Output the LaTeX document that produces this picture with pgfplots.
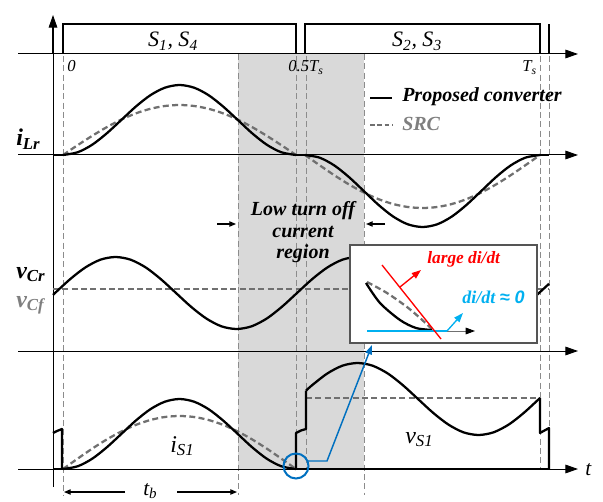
\documentclass[border=0pt]{standalone}
\usepackage{pgfplots}
\pgfplotsset{compat=1.18}
\usepackage{fontspec}
\setmainfont{Liberation Serif}
\newfontfamily\sansfont{Liberation Sans}
\usetikzlibrary{arrows.meta}

\definecolor{srcgray}{HTML}{707070}
\definecolor{vgray}{HTML}{8C8C8C}
\definecolor{shadegray}{HTML}{D9D9D9}
\definecolor{lblgray}{HTML}{7F7F7F}
\definecolor{boxgray}{HTML}{555555}
\definecolor{ddtred}{HTML}{FF0000}
\definecolor{ddtblue}{HTML}{00B0F0}
\definecolor{markblue}{HTML}{0070C0}

\newcommand{\fs}[1]{\fontsize{#1}{#1}\selectfont}

\tikzset{
  sol/.style={black, line width=1.7pt, line join=round, mark=none},
  srcd/.style={srcgray, line width=1.7pt, dash pattern=on 4.5pt off 2.5pt, mark=none},
  vdash/.style={vgray, line width=0.6pt, dash pattern=on 4.5pt off 2.5pt},
  tax/.style={black, line width=0.75pt, -{Triangle[length=9.5pt,width=6.5pt]}},
  gate/.style={black, line width=2pt, line join=miter},
  smallarr/.style={black, line width=0.8pt, -{Triangle[length=5pt,width=4pt]}},
}

\begin{document}
\begin{tikzpicture}
\begin{axis}[
  scale only axis, width=452.25pt, height=376.5pt,
  xmin=0, xmax=603, ymin=0, ymax=502, y dir=reverse,
  hide axis, clip=false,
]
% page extent
\path (0,0) rectangle (603,502);

% low turn-off current region
\fill[shadegray] (238,54) rectangle (364,469);

% switching instants
\draw[vdash] (63,56) -- (63,495);
\draw[vdash] (238,54) -- (238,495);
\draw[vdash] (364,54) -- (364,495);
\draw[vdash] (296,56) -- (296,469);
\draw[vdash] (306,56) -- (306,469);
\draw[vdash] (540,56) -- (540,469);
\draw[vdash] (549,56) -- (549,469);

% time axes
\draw[tax] (18,54) -- (578,54);
\draw[tax] (18,155) -- (578,155);
\draw[tax] (18,351) -- (578,351);
\draw[tax] (18,469) -- (578,469);
\draw[tax] (53,487) -- (53,15);

% gate signals
\draw[gate] (53,54) -- (53,25);
\draw[gate] (63,54) -- (63,24) -- (296,24) -- (296,54);
\draw[gate] (305,54) -- (305,24) -- (540,24) -- (540,54);
\draw[gate] (549,54) -- (549,24);

% ---- resonant inductor current i_Lr ----
\addplot[srcd, smooth] coordinates {(63,155) (77.6,145.2) (92.1,135.9) (106.7,127.2) (121.3,119.6) (135.8,113.4) (150.4,108.8) (164.9,106) (179.5,105) (194.1,106) (208.6,108.8) (223.2,113.4) (237.8,119.6) (252.3,127.2) (266.9,135.9) (281.4,145.2) (296,155)};
\addplot[srcd, smooth] coordinates {(305,155) (319.7,165.3) (334.4,175.3) (349.1,184.5) (363.8,192.5) (378.4,199.1) (393.1,204) (407.8,207) (422.5,208) (437.2,207) (451.9,204) (466.6,199.1) (481.3,192.5) (495.9,184.5) (510.6,175.3) (525.3,165.3) (540,155)};
\addplot[sol] coordinates {(53,155) (63,155)};
\addplot[sol, smooth] coordinates {(63,155) (77.6,152.3) (92.1,144.8) (106.7,133.4) (121.3,120) (135.8,106.6) (150.4,95.2) (164.9,87.7) (179.5,85) (194.1,87.7) (208.6,95.2) (223.2,106.6) (237.8,120) (252.3,133.4) (266.9,144.8) (281.4,152.3) (296,155)};
\addplot[sol] coordinates {(296,155) (305,155)};
\addplot[sol, smooth] coordinates {(305,155) (319.7,157.7) (334.4,165.5) (349.1,177.2) (363.8,191) (378.4,204.8) (393.1,216.5) (407.8,224.3) (422.5,227) (437.2,224.3) (451.9,216.5) (466.6,204.8) (481.3,191) (495.9,177.2) (510.6,165.5) (525.3,157.7) (540,155)};
\addplot[sol] coordinates {(540,155) (549,155)};

% ---- capacitor voltages v_Cr, v_Cf ----
\addplot[srcd] coordinates {(53,289) (549,289)};
\addplot[sol, smooth] coordinates {(53,294.9) (70.1,279.2) (85.3,267.5) (100.4,259.7) (115.5,257) (130.6,259.7) (145.8,267.5) (160.9,279.2) (176,293) (191.1,306.8) (206.3,318.5) (221.4,326.3) (236.5,329) (251.6,326.3) (266.8,318.5) (281.9,306.8) (297,293) (312.1,279.2) (327.3,267.5) (342.4,259.7) (357.5,257) (372.6,259.7) (387.8,267.5) (402.9,279.2) (418,293) (433.1,306.8) (448.3,318.5) (463.4,326.3) (478.5,329) (493.6,326.3) (508.8,318.5) (523.9,306.8) (539,293) (549,283.8)};

% ---- switch current i_S1 and voltage v_S1 ----
\addplot[srcd, smooth] coordinates {(63,469) (77.6,458.7) (92.1,448.7) (106.7,439.5) (121.3,431.5) (135.8,424.9) (150.4,420) (164.9,417) (179.5,416) (194.1,417) (208.6,420) (223.2,424.9) (237.8,431.5) (252.3,439.5) (266.9,448.7) (281.4,458.7) (296,469)};
\addplot[srcd] coordinates {(306,398) (540,398)};
\addplot[sol] coordinates {(53,433) (57,431) (62,429) (62,469)};
\addplot[sol] coordinates {(53,469) (63,469)};
\addplot[sol, smooth] coordinates {(63,469) (77.6,466.3) (92.1,458.8) (106.7,447.4) (121.3,434) (135.8,420.6) (150.4,409.2) (164.9,401.7) (179.5,399) (194.1,401.7) (208.6,409.2) (223.2,420.6) (237.8,434) (252.3,447.4) (266.9,458.8) (281.4,466.3) (296,469)};
\addplot[sol] coordinates {(296,469) (296,433) (301,430.5) (306,429) (306,390.7)};
\addplot[sol, smooth] coordinates {(306,390.7) (312.1,385.2) (327.3,373.5) (342.4,365.7) (357.5,363) (372.6,365.7) (387.8,373.5) (402.9,385.2) (418,399) (433.1,412.8) (448.3,424.5) (463.4,432.3) (478.5,435) (493.6,432.3) (508.8,424.5) (523.9,412.8) (540,398)};
\addplot[sol] coordinates {(540,398) (540,433) (549,428) (549,469)};
\addplot[sol] coordinates {(296,469) (549,469)};

% ---- zoomed detail of the turn-off instant ----
\draw[boxgray, line width=0.8pt, fill=white] (350,245) rectangle (537,343);
\addplot[srcd, smooth] coordinates {(367,282) (387,293) (407,307) (420,318) (432,329)};
\addplot[sol, smooth] coordinates {(366,283) (380,303) (400,320) (416,328) (432,330)};
\draw[srcgray, line width=0.7pt, -{Triangle[length=7pt,width=5pt,color=black]}] (447,331) -- (475,331);
\draw[ddtblue, line width=1pt] (367,331) -- (447,331);
\draw[ddtblue, line width=1pt, -{Triangle[length=7pt,width=5pt]}] (447,331) -- (463,313);
\draw[ddtred, line width=1pt] (382,265) -- (441,339);
\draw[ddtred, line width=1pt, -{Triangle[length=7pt,width=5pt]}] (400,287) -- (421,270);
\node[anchor=base west, text=ddtred, font=\fs{13}\bfseries\itshape, inner sep=0pt] at (427,263) {large di/dt};
\node[anchor=base west, text=ddtblue, font=\fs{13.5}\bfseries\itshape, inner sep=0pt] at (462,303) {di/dt {\sansfont ≈ 0}};

% pointer from the zero-current turn-off
\draw[markblue, line width=1.5pt] (296,466) circle[radius=12.5];
\draw[markblue, line width=1.1pt, -{Triangle[length=7pt,width=5pt]}] (308,461) -- (327,461) -- (372,345);

% ---- labels ----
\node[anchor=base, font=\fs{16.5}\itshape, inner sep=0pt] at (173,47) {S\textsubscript{1}, S\textsubscript{4}};
\node[anchor=base, font=\fs{16.5}\itshape, inner sep=0pt] at (417,47) {S\textsubscript{2}, S\textsubscript{3}};
\node[anchor=base west, font=\fs{12.5}\itshape, inner sep=0pt] at (67,72) {0};
\node[anchor=base west, font=\fs{12.5}\itshape, inner sep=0pt] at (288,72) {0.5T\textsubscript{s}};
\node[anchor=base west, font=\fs{12.5}\itshape, inner sep=0pt] at (522,72) {T\textsubscript{s}};

\node[anchor=base west, font=\fs{18}\bfseries\itshape, inner sep=0pt] at (16,146) {i\textsubscript{Lr}};
\node[anchor=base west, font=\fs{18}\bfseries\itshape, inner sep=0pt] at (16,278) {v\textsubscript{Cr}};
\node[anchor=base west, text=lblgray, font=\fs{18}\bfseries\itshape, inner sep=0pt] at (16,307) {v\textsubscript{Cf}};
\node[anchor=base west, font=\fs{18}\itshape, inner sep=0pt] at (170,452) {i\textsubscript{S1}};
\node[anchor=base west, font=\fs{18}\itshape, inner sep=0pt] at (405,443) {v\textsubscript{S1}};
\node[anchor=base west, font=\fs{16}\itshape, inner sep=0pt] at (585,475) {t};

% legend
\draw[black, line width=2.2pt] (370,98) -- (392,98);
\draw[srcgray, line width=2.2pt, dash pattern=on 3.5pt off 2pt] (370,125) -- (393,125);
\node[anchor=base west, font=\fs{15}\bfseries\itshape, inner sep=0pt] at (402,102) {Proposed converter};
\node[anchor=base west, text=lblgray, font=\fs{15}\bfseries\itshape, inner sep=0pt] at (402,131) {SRC};

% low turn-off current region
\node[anchor=base, font=\fs{15}\bfseries\itshape, inner sep=0pt] at (303,216) {Low turn off};
\node[anchor=base, font=\fs{15}\bfseries\itshape, inner sep=0pt] at (303,238) {current};
\node[anchor=base, font=\fs{15}\bfseries\itshape, inner sep=0pt] at (303,259) {region};
\draw[smallarr] (217,224) -- (236,224);
\draw[smallarr] (385,224) -- (366,224);

% t_b span
\draw[smallarr] (125,492) -- (64,492);
\draw[smallarr] (177,492) -- (237,492);
\node[anchor=base west, font=\fs{16}\itshape, inner sep=0pt] at (143,495) {t\textsubscript{b}};
\end{axis}
\end{tikzpicture}
\end{document}
